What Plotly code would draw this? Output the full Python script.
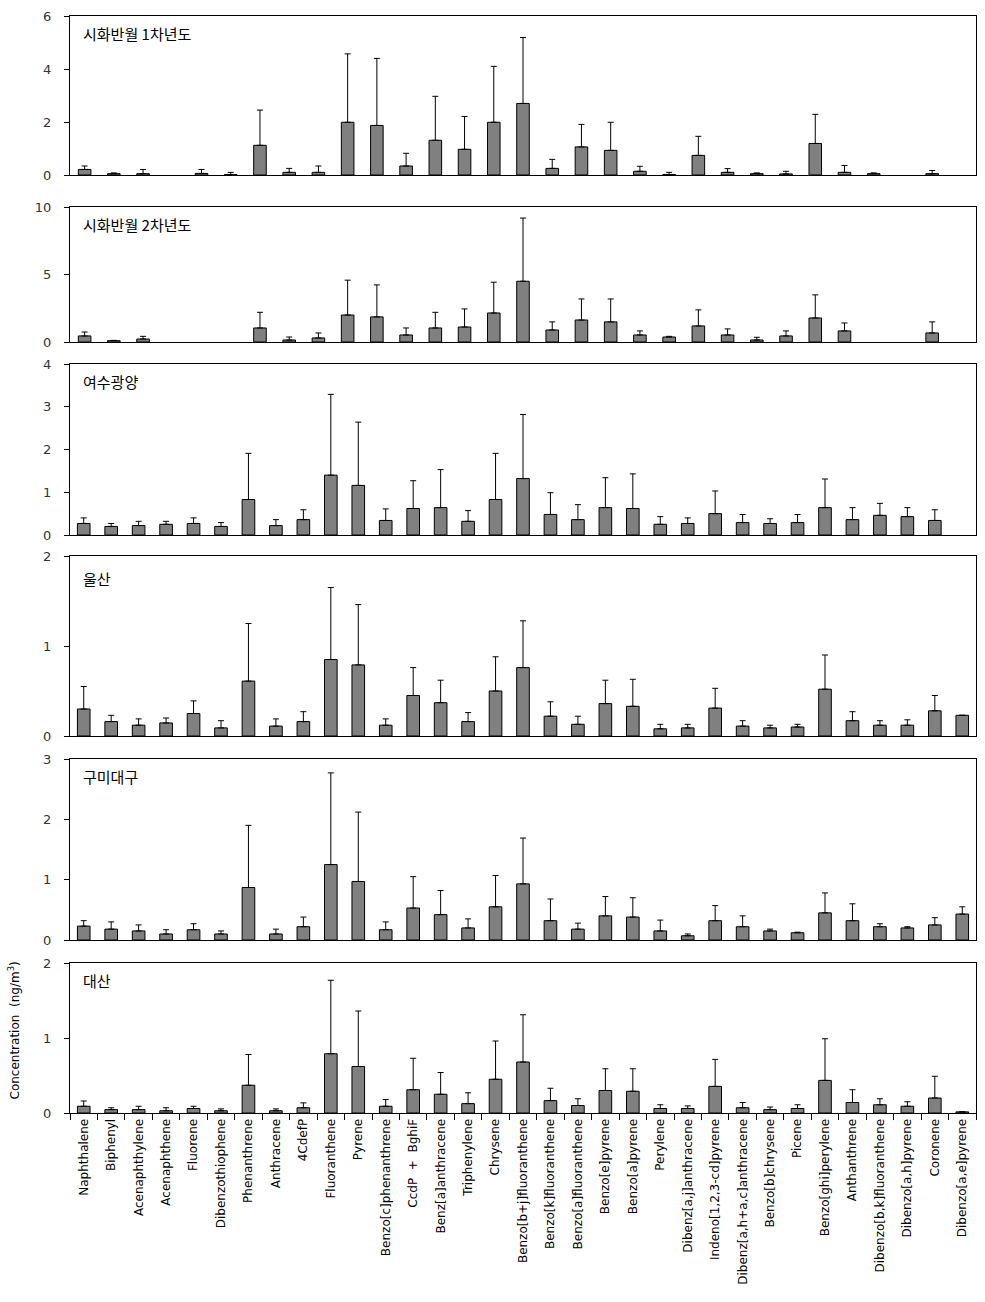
import plotly.graph_objects as go

# ---------------- data ----------------
compounds = ["Naphthalene", "Biphenyl", "Acenaphthylene", "Acenaphthene", "Fluorene",
             "Dibenzothiophene", "Phenanthrene", "Anthracene", "4CdefP", "Fluoranthene",
             "Pyrene", "Benzo[c]phenanthrene", "CcdP  +  BghiF", "Benz[a]anthracene",
             "Triphenylene", "Chrysene", "Benzo[b+j]fluoranthene", "Benzo[k]fluoranthene",
             "Benzo[a]fluoranthene", "Benzo[e]pyrene", "Benzo[a]pyrene", "Perylene",
             "Dibenz[a,j]anthracene", "Indeno[1,2,3-cd]pyrene", "Dibenz[a,h+a,c]anthracene",
             "Benzo[b]chrysene", "Picene", "Benzo[ghi]perylene", "Anthanthrene",
             "Dibenzo[b,k]fluoranthene", "Dibenzo[a,h]pyrene", "Coronene", "Dibenzo[a,e]pyrene"]

# first two periods: Triphenylene and Benzo[a]fluoranthene not reported
compounds_short = [c for c in compounds if c not in ("Triphenylene", "Benzo[a]fluoranthene")]

site_names = ["시화반월 1차년도", "시화반월 2차년도", "여수광양", "울산", "구미대구", "대산"]

mean_1 = [0.21, 0.05, 0.05, None, 0.06, 0.02, 1.12, 0.10, 0.10, 1.99, 1.87, 0.34, 1.31, 0.97,
          1.99, 2.70, 0.25, 1.06, 0.93, 0.14, 0.02, 0.74, 0.10, 0.05, 0.04, 1.19, 0.10, 0.05,
          None, 0.05, None]
sd_1 = [0.13, 0.03, 0.16, None, 0.15, 0.08, 1.33, 0.15, 0.24, 2.58, 2.53, 0.48, 1.66, 1.24,
        2.11, 2.49, 0.34, 0.85, 1.06, 0.19, 0.08, 0.72, 0.14, 0.03, 0.10, 1.10, 0.26, 0.03,
        None, 0.12, None]

mean_2 = [0.45, 0.10, 0.22, None, None, None, 1.04, 0.15, 0.30, 2.00, 1.86, 0.52, 1.04, 1.11,
          2.15, 4.50, 0.89, 1.63, 1.49, 0.52, 0.37, 1.19, 0.52, 0.15, 0.45, 1.78, 0.82, None,
          None, 0.67, None]
sd_2 = [0.29, 0.02, 0.20, None, None, None, 1.16, 0.22, 0.37, 2.58, 2.37, 0.52, 1.16, 1.34,
        2.28, 4.68, 0.60, 1.56, 1.70, 0.30, 0.05, 1.19, 0.45, 0.20, 0.37, 1.71, 0.59, None,
        None, 0.82, None]

mean_3 = [0.27, 0.20, 0.22, 0.25, 0.27, 0.20, 0.83, 0.22, 0.36, 1.40, 1.16, 0.34, 0.62, 0.64,
          0.32, 0.83, 1.32, 0.48, 0.36, 0.64, 0.62, 0.25, 0.27, 0.50, 0.29, 0.27, 0.29, 0.64,
          0.36, 0.46, 0.43, 0.34, None]
sd_3 = [0.13, 0.07, 0.10, 0.07, 0.13, 0.09, 1.08, 0.14, 0.23, 1.89, 1.48, 0.27, 0.65, 0.89,
        0.25, 1.08, 1.50, 0.51, 0.35, 0.70, 0.81, 0.18, 0.13, 0.53, 0.19, 0.11, 0.19, 0.67,
        0.28, 0.28, 0.21, 0.25, None]

mean_4 = [0.30, 0.16, 0.12, 0.145, 0.25, 0.09, 0.61, 0.11, 0.16, 0.85, 0.79, 0.12, 0.45, 0.37,
          0.16, 0.50, 0.76, 0.22, 0.13, 0.36, 0.33, 0.08, 0.09, 0.31, 0.11, 0.09, 0.10, 0.52,
          0.17, 0.12, 0.12, 0.28, 0.23]
sd_4 = [0.25, 0.07, 0.07, 0.055, 0.14, 0.08, 0.64, 0.08, 0.11, 0.80, 0.67, 0.07, 0.31, 0.25,
        0.10, 0.38, 0.52, 0.16, 0.09, 0.26, 0.30, 0.05, 0.04, 0.22, 0.06, 0.03, 0.03, 0.38,
        0.10, 0.05, 0.06, 0.17, None]

mean_5 = [0.23, 0.18, 0.15, 0.10, 0.17, 0.10, 0.87, 0.10, 0.22, 1.25, 0.97, 0.17, 0.53, 0.42,
          0.20, 0.55, 0.93, 0.32, 0.18, 0.40, 0.38, 0.15, 0.07, 0.32, 0.22, 0.15, 0.12, 0.45,
          0.32, 0.22, 0.20, 0.25, 0.43]
sd_5 = [0.09, 0.12, 0.10, 0.07, 0.10, 0.05, 1.03, 0.08, 0.16, 1.52, 1.15, 0.13, 0.52, 0.40,
        0.15, 0.52, 0.76, 0.36, 0.10, 0.32, 0.32, 0.18, 0.03, 0.25, 0.18, 0.03, 0.01, 0.33,
        0.28, 0.05, 0.02, 0.12, 0.12]

mean_6 = [0.09, 0.045, 0.045, 0.03, 0.06, 0.03, 0.37, 0.03, 0.07, 0.79, 0.62, 0.09, 0.31, 0.25,
          0.125, 0.45, 0.68, 0.165, 0.10, 0.30, 0.29, 0.06, 0.06, 0.355, 0.07, 0.045, 0.06,
          0.435, 0.14, 0.11, 0.09, 0.20, 0.015]
sd_6 = [0.07, 0.025, 0.045, 0.04, 0.03, 0.025, 0.41, 0.025, 0.065, 0.98, 0.74, 0.09, 0.42,
        0.29, 0.145, 0.51, 0.63, 0.165, 0.09, 0.29, 0.30, 0.05, 0.035, 0.36, 0.07, 0.035,
        0.05, 0.555, 0.17, 0.08, 0.06, 0.29, None]

y_max = [6, 10, 4, 2, 3, 2]
y_dtick = [2, 5, 1, 1, 1, 1]

# ---------------- figure ----------------
W, H = 985, 1302
m_l, m_r, m_t, m_b = 70, 9, 16, 189
plot_h = H - m_t - m_b
# panel pixel extents (top, bottom)
panel_px = [(16, 175), (207, 342), (364, 535), (556, 736), (759, 940), (963, 1113)]
bottom_px = 1113

means = [mean_1, mean_2, mean_3, mean_4, mean_5, mean_6]
sds = [sd_1, sd_2, sd_3, sd_4, sd_5, sd_6]
cats = [compounds_short, compounds_short] + [compounds] * 4

latin = "DejaVu Sans, Verdana, sans-serif"
korean = "Noto Sans CJK KR, sans-serif"

fig = go.Figure()
layout = dict(
    width=W, height=H,
    margin=dict(l=m_l, r=m_r, t=m_t, b=m_b, autoexpand=False),
    paper_bgcolor="white", plot_bgcolor="white",
    showlegend=False,
    font=dict(family=latin, size=12, color="#222222"),
)

annotations = []
for i in range(6):
    n = "" if i == 0 else str(i + 1)
    top, bot = panel_px[i]
    dom = [(bottom_px - bot) / plot_h, (bottom_px - top) / plot_h]
    nb = len(cats[i])
    bw = 0.43 if nb == 31 else 0.46
    fig.add_trace(go.Bar(
        x=cats[i], y=means[i],
        xaxis="x" + n, yaxis="y" + n,
        width=bw,
        marker=dict(color="#808080", line=dict(color="black", width=1)),
        error_y=dict(type="data", symmetric=False, array=sds[i],
                     arrayminus=[0] * nb, color="black", thickness=1, width=3),
        hoverinfo="x+y",
    ))
    last = (i == 5)
    layout["xaxis" + n] = dict(
        domain=[0, 1], anchor="y" + n, type="category",
        categoryorder="array", categoryarray=cats[i],
        showline=True, linecolor="black", linewidth=1, mirror=True,
        showgrid=False, zeroline=False,
        showticklabels=last,
        ticks="outside" if last else "",
        tickson="boundaries", ticklen=6, tickcolor="black",
        tickangle=-90,
        tickfont=dict(family=latin, size=12, color="black"),
    )
    layout["yaxis" + n] = dict(
        domain=dom, anchor="x" + n,
        range=[0, y_max[i]], tick0=0, dtick=y_dtick[i],
        showline=True, linecolor="black", linewidth=1, mirror=True,
        showgrid=False, zeroline=False,
        ticks="outside", ticklen=5, tickcolor="black",
        ticklabelstandoff=10,
        tickfont=dict(family=latin, size=13, color="#333333"),
    )
    annotations.append(dict(
        text=site_names[i], xref="x" + n + " domain", yref="y" + n + " domain",
        x=0.012, y=1, xanchor="left", yanchor="top", yshift=-5 if i != 3 else -10,
        showarrow=False, font=dict(family=korean, size=15, color="black"),
    ))

annotations.append(dict(
    text="Concentration  (ng/m<sup>3</sup>)", xref="paper", yref="y6 domain",
    x=(13 - m_l) / (W - m_l - m_r), y=0.55, xanchor="center", yanchor="middle",
    textangle=-90, showarrow=False,
    font=dict(family=latin, size=12, color="black"),
))
layout["annotations"] = annotations
fig.update_layout(**layout)

fig.write_html("out.html",
               config={"displayModeBar": False},
               post_script="document.body.style.margin='0px';document.body.style.padding='0px';")
